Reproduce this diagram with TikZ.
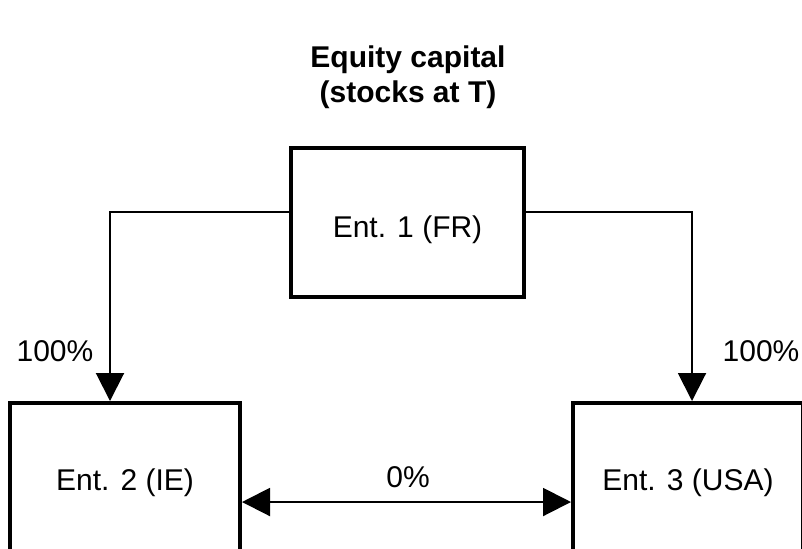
\documentclass[tikz,border=0pt]{standalone}
\usepackage{fontspec}
\setmainfont{Liberation Sans}
\usetikzlibrary{arrows.meta}

\tikzset{
  entbox/.style={draw, line width=2pt, minimum width=115pt, minimum height=75pt,
    inner sep=0pt, text height=12pt, text depth=0pt, font=\fontsize{15pt}{18pt}\selectfont},
  conn/.style={line width=1pt, -{Triangle[length=14pt, width=14pt]}},
  pct/.style={font=\fontsize{15pt}{18pt}\selectfont}
}

\begin{document}
\begin{tikzpicture}[x=0.5pt, y=-0.5pt]
  \useasboundingbox (0,0) rectangle (802,548);
  \clip (0,0) rectangle (802,548);
  % Title
  \node[align=center, font=\fontsize{15pt}{17.5pt}\selectfont\bfseries] (title) at (408,77)
    {Equity capital\\(stocks at T)};
  % Entities
  \node[entbox, minimum height=74.5pt, minimum width=116.5pt, text height=15pt] (ent1) at (407.5,222.5) {Ent. 1 (FR)};
  \node[entbox] (ent2) at (125,478) {Ent. 2 (IE)};
  \node[entbox] (ent3) at (688,478) {Ent. 3 (USA)};
  % Ownership links
  \coordinate (splitL) at (110,212);
  \coordinate (splitR) at (692,212);
  \coordinate (cross) at (408,502);
  \draw[conn] (ent1.west |- splitL) -- (splitL) -- (splitL |- ent2.north);
  \draw[conn] (ent1.east |- splitR) -- (splitR) -- (splitR |- ent3.north);
  \draw[conn, {Triangle[length=14pt, width=14pt]}-{Triangle[length=14pt, width=14pt]}]
    (ent2.east |- cross) -- (ent3.west |- cross);
  % Shares
  \node[pct] (shareL) at (55,351) {100\%};
  \node[pct] (shareR) at (761,351) {100\%};
  \node[pct] (shareX) at (408,477) {0\%};
\end{tikzpicture}
\end{document}
